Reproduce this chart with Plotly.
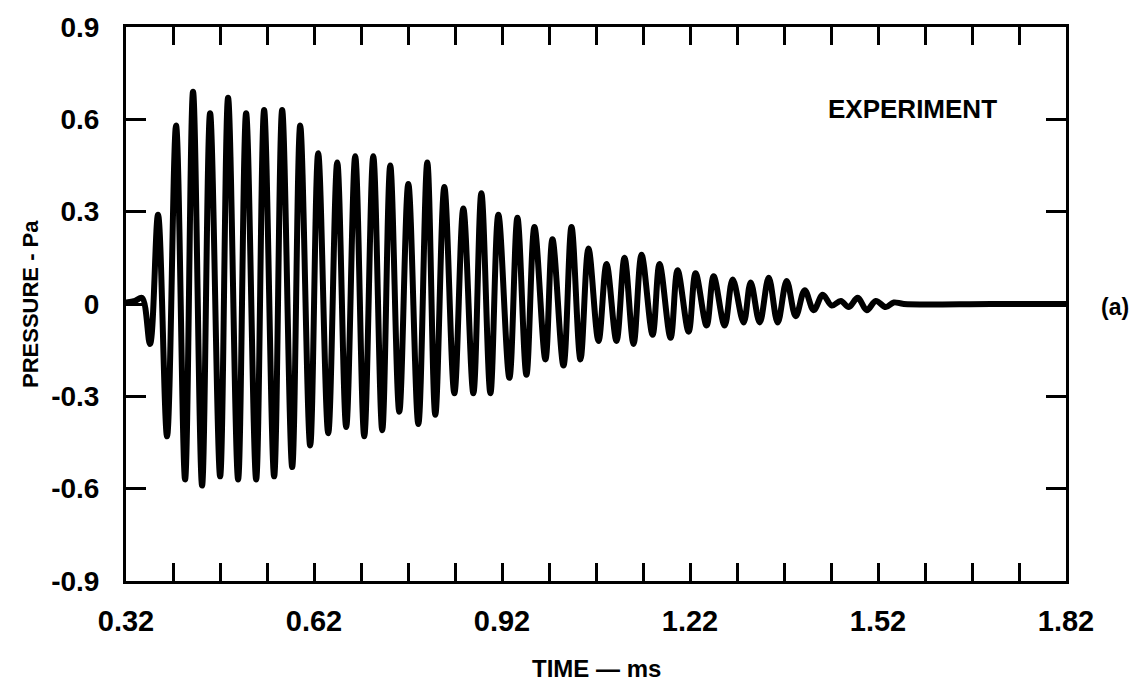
import plotly.graph_objects as go

time_ms = [
    0.3200, 0.3344, 0.3456, 0.3583, 0.3711, 0.3855, 0.3999, 0.4143, 0.4270, 0.4414,
    0.4542, 0.4702, 0.4829, 0.4989, 0.5117, 0.5277, 0.5404, 0.5564, 0.5692, 0.5852,
    0.5980, 0.6139, 0.6267, 0.6427, 0.6571, 0.6714, 0.6858, 0.7002, 0.7146, 0.7289,
    0.7417, 0.7561, 0.7705, 0.7865, 0.8008, 0.8136, 0.8280, 0.8440, 0.8583, 0.8743,
    0.8871, 0.9015, 0.9142, 0.9318, 0.9446, 0.9590, 0.9718, 0.9893, 1.0005, 1.0181,
    1.0309, 1.0452, 1.0580, 1.0740, 1.0868, 1.1027, 1.1155, 1.1299, 1.1427, 1.1603,
    1.1714, 1.1890, 1.2002, 1.2178, 1.2289, 1.2465, 1.2577, 1.2753, 1.2881, 1.3056,
    1.3168, 1.3312, 1.3456, 1.3599, 1.3743, 1.3887, 1.4031, 1.4174, 1.4318, 1.4462,
    1.4606, 1.4734, 1.4877, 1.5021, 1.5165, 1.5325, 1.5452, 1.5612, 1.7000, 1.8200,
]
pressure_pa = [
    0.005, 0.010, 0.020, -0.130, 0.290, -0.430, 0.580, -0.570, 0.690, -0.590,
    0.620, -0.560, 0.670, -0.570, 0.620, -0.570, 0.630, -0.560, 0.630, -0.530,
    0.580, -0.460, 0.490, -0.420, 0.460, -0.400, 0.480, -0.430, 0.480, -0.410,
    0.450, -0.350, 0.390, -0.390, 0.460, -0.360, 0.380, -0.290, 0.310, -0.290,
    0.360, -0.290, 0.290, -0.240, 0.280, -0.230, 0.250, -0.180, 0.210, -0.200,
    0.250, -0.180, 0.180, -0.120, 0.130, -0.120, 0.150, -0.130, 0.160, -0.100,
    0.130, -0.110, 0.110, -0.090, 0.100, -0.070, 0.090, -0.070, 0.080, -0.060,
    0.070, -0.060, 0.085, -0.060, 0.075, -0.040, 0.045, -0.020, 0.030, -0.005,
    0.010, -0.010, 0.020, -0.020, 0.010, -0.010, 0.005, 0.000, 0.000, 0.000,
]

x_tickvals = [0.32, 0.62, 0.92, 1.22, 1.52, 1.82]
x_ticktext = ["0.32", "0.62", "0.92", "1.22", "1.52", "1.82"]
y_tickvals = [0.9, 0.6, 0.3, 0.0, -0.3, -0.6, -0.9]
y_ticktext = ["0.9", "0.6", "0.3", "0", "-0.3", "-0.6", "-0.9"]

FONT = "Liberation Sans"

fig = go.Figure()
fig.add_trace(go.Scatter(
    x=time_ms, y=pressure_pa, mode="lines",
    line=dict(color="black", width=6, shape="spline", smoothing=1.0),
    hoverinfo="skip", showlegend=False,
))

axis_common = dict(
    showline=True, linecolor="black", linewidth=3, mirror="ticks",
    ticks="inside", tickcolor="black", tickwidth=3,
    showgrid=False, zeroline=False,
)

fig.update_xaxes(
    range=[0.32, 1.82], tickmode="array", tickvals=x_tickvals, ticktext=x_ticktext,
    ticklen=18, tickfont=dict(family=FONT, size=29, color="black", weight="bold"),
    ticklabelstandoff=12,
    minor=dict(ticks="inside", dtick=0.075, tick0=0.32, ticklen=18, tickwidth=3,
               tickcolor="black", showgrid=False),
    **axis_common,
)
fig.update_yaxes(
    range=[-0.9, 0.9], tickmode="array", tickvals=y_tickvals, ticktext=y_ticktext,
    ticklen=20, tickfont=dict(family=FONT, size=28, color="black", weight="bold"),
    ticklabelstandoff=18,
    **axis_common,
)

fig.add_annotation(text="EXPERIMENT", x=1.5756, y=0.632, xref="x", yref="y",
                   showarrow=False, xanchor="center", yanchor="middle",
                   font=dict(family=FONT, size=26, color="black", weight="bold"))
fig.add_annotation(text="(a)", x=1.052, y=0.4945, xref="paper", yref="paper",
                   showarrow=False, xanchor="center", yanchor="middle",
                   font=dict(family=FONT, size=23, color="black", weight="bold"))
fig.add_annotation(text="TIME \u2014 ms", x=0.5, y=0, xref="paper", yref="paper",
                   yshift=-87, showarrow=False, xanchor="center", yanchor="middle",
                   font=dict(family=FONT, size=24, color="black", weight="bold"))
fig.add_annotation(text="PRESSURE - Pa", x=0, y=0.5, xref="paper", yref="paper",
                   xshift=-96, textangle=-90, showarrow=False,
                   xanchor="center", yanchor="middle",
                   font=dict(family=FONT, size=22, color="black", weight="bold"))

fig.update_layout(
    width=1140, height=688,
    margin=dict(l=126, r=74, t=19, b=107),
    paper_bgcolor="white", plot_bgcolor="white",
    showlegend=False,
)

fig.write_html("out.html")
